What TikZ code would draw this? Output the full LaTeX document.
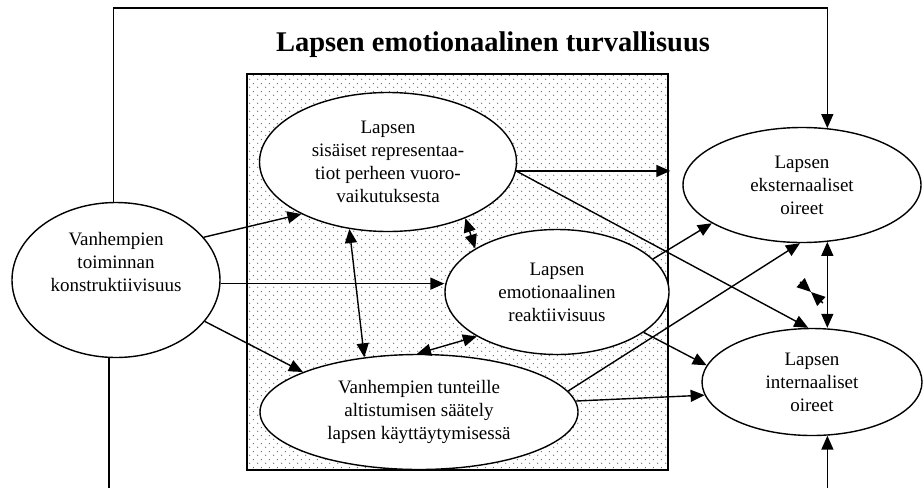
\documentclass[tikz,border=0pt]{standalone}
\usepackage{fontspec}
\setmainfont{Liberation Serif}
\usetikzlibrary{arrows.meta,patterns.meta,shapes.geometric}

\tikzdeclarepattern{
  name=sanddots,
  type=uncolored,
  bounding box={(0pt,0pt) and (8pt,8pt)},
  tile size={(8pt,8pt)},
  code={
    \fill (2pt,2pt) circle (0.75pt);
    \fill (6pt,6pt) circle (0.75pt);
  }
}

\begin{document}
\begin{tikzpicture}[x=1pt,y=-1pt,
  oval/.style={draw,ellipse,line width=1.4pt,fill=white,inner sep=0pt,align=center,font=\fontsize{19}{23}\selectfont},
  link/.style={line width=1.4pt,-{Triangle[length=14pt,width=12pt]}},
  twoway/.style={line width=1.4pt,{Triangle[length=14pt,width=12pt]}-{Triangle[length=14pt,width=12pt]}}]
	\useasboundingbox (0,0) rectangle (923,488);
	\fill[white] (0,0) rectangle (923,488);
	\node[font=\bfseries\fontsize{28.5}{32}\selectfont] (title) at (493,45) {Lapsen emotionaalinen turvallisuus};
	\draw[line width=1.4pt,pattern={sanddots},pattern color=black!60] (247,74) rectangle (668,470);
	\node[oval,minimum width=257pt,minimum height=139pt] (A) at (388,162) {Lapsen\\sisäiset representaa-\\tiot perheen vuoro-\\vaikutuksesta};
	\node[oval,minimum width=224pt,minimum height=125pt] (B) at (557,292) {Lapsen\\emotionaalinen\\reaktiivisuus};
	\node[oval,minimum width=318pt,minimum height=115pt] (C) at (419,412) {Vanhempien tunteille\\altistumisen säätely\\lapsen käyttäytymisessä};
	\node[oval,minimum width=208pt,minimum height=155pt,
	  label={[yshift=18pt,align=center,font=\fontsize{19}{23}\selectfont]center:Vanhempien\\toiminnan\\konstruktiivisuus}] (D) at (116,280) {};
	\node[oval,minimum width=238pt,minimum height=115pt] (E) at (802,185) {Lapsen\\eksternaaliset\\oireet};
	\node[oval,minimum width=220pt,minimum height=107pt] (F) at (812,382) {Lapsen\\internaaliset\\oireet};
	\coordinate (topline) at (500,8);
	\coordinate (botline) at (500,488);
	\coordinate (bowM) at (811,292);
	\coordinate (bowA) at (800,282);
	\coordinate (bowB) at (823,303);
	% from the parents' side
	\draw[link] (D.26) -- (A.211);
	\draw[link] (D.-2) -- (D.-2 -| B.west);
	\draw[link] (D.-25) -- (C.161);
	\draw[link] (D.92) -- (D.92 |- topline) -| (E.66);
	\draw[line width=1.4pt] (D.265) -- (D.265 |- botline);
	% inside the box
	\draw[twoway] (A.240) -- (C.135);
	\draw[twoway] (A.-36) -- (B.152);
	\draw[twoway] (C.92) -- (B.209);
	% to the symptoms
	\draw[link,shorten >=12pt] (A.-4) -- (A.-4 -| E.west);
	\draw[link] (A.-4) -- (F.94);
	\draw[link] (B.19) -- (E.203);
	\draw[link] (B.-25) -- (F.171);
	\draw[link] (C.8) -- (E.268);
	\draw[link] (C.4) -- (F.187);
	\draw[twoway] (E.-66) -- (E.-66 |- F.north);
	\draw[link] (F.-74 |- botline) -- (F.-74);
	\draw[link] (bowA) -- (bowM);
	\draw[link] (bowB) -- (bowM);
\end{tikzpicture}
\end{document}
